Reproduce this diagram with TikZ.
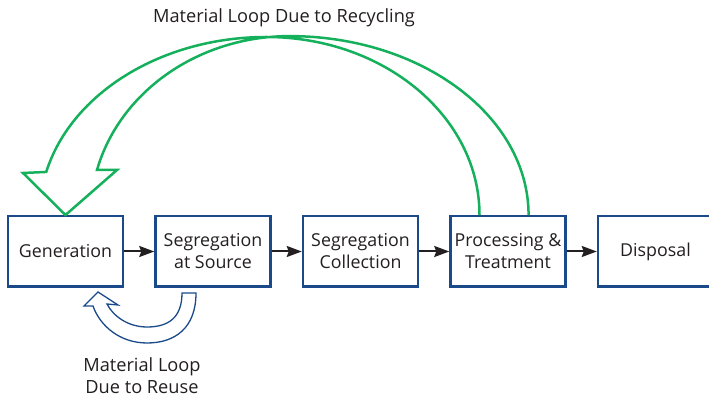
\documentclass[tikz,border=0pt]{standalone}
\usepackage{fontspec}
\setmainfont{Open Sans}
\usetikzlibrary{positioning,arrows.meta,calc}
\definecolor{bline}{HTML}{1B4A8A}
\definecolor{gloop}{HTML}{14B05C}
\definecolor{btext}{HTML}{231F20}
\tikzset{
  box/.style = {draw=bline, fill=white, line width=2.5pt, minimum width=115pt,
                minimum height=70.5pt, align=center, inner sep=2pt,
                font=\fontsize{17.8}{22}\selectfont, text=btext},
  a/.style   = {-{Stealth[length=15pt,width=11pt,inset=2pt]}, line width=2pt, draw=btext},
  lbl/.style = {font=\fontsize{18.2}{22}\selectfont, text=btext, align=center, inner sep=0pt},
  gl/.style  = {draw=gloop, line width=2.5pt, line join=miter},
  bl/.style  = {draw=bline, line width=1.3pt, fill=white, line join=miter},
  node distance = 30pt,
}

\begin{document}
\begin{tikzpicture}[x=1pt,y=1pt]
\useasboundingbox (0,0) rectangle (709,398);

% ---- main row
\node[box]                 (gen)  at (65.5,146.5) {Generation};
\node[box, right=of gen]   (src)  {Segregation\\at Source};
\node[box, right=of src]   (col)  {Segregation\\Collection};
\node[box, right=of col]   (proc) {Processing \&\\Treatment};
\node[box, right=of proc]  (disp) {Disposal};

% ---- flow
\draw[a] (gen)  -- (src);
\draw[a] (src)  -- (col);
\draw[a] (col)  -- (proc);
\draw[a] (proc) -- (disp);

% ---- recycling loop, back from processing to generation
\draw[gl] ($(proc.north)+(-28.5,0)$)
    arc[start angle=0, end angle=90, x radius=213, y radius=178]
    arc[start angle=90, end angle=166, x radius=227, y radius=178]
    -- (23,225) -- (gen.north) -- (117,228) -- (97,228)
    arc[start angle=165.4, end angle=90, x radius=199, y radius=179]
    arc[start angle=90, end angle=0, x radius=239, y radius=179];

% ---- reuse loop under the first two boxes
\draw[bl] (182,105) -- (196,105)
    .. controls (196,70) and (175,55) .. (147,55)
    .. controls (120,55) and (100,72) .. (93,92)
    -- (84,92) -- (98,106) -- (118,93) -- (107,94)
    .. controls (113,82) and (128,71) .. (147,71)
    .. controls (168,71) and (182,80) .. (182,105) -- cycle;

% ---- loop labels
\node[lbl, anchor=base]  (recyc) at (284,375)  {Material Loop Due to Recycling};
\node[lbl, anchor=north] (reuse) at (142,40.5) {Material Loop\\Due to Reuse};

\end{tikzpicture}
\end{document}
